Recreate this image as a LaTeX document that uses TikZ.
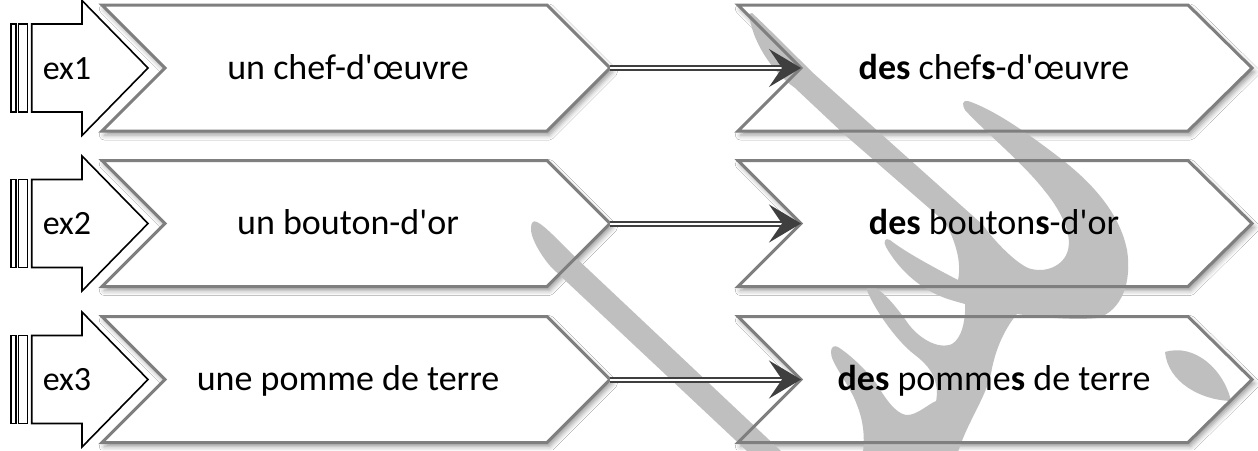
\documentclass[tikz,border=0pt]{standalone}
\usepackage{fontspec}
\setmainfont{Carlito}[Ligatures=TeXOff]
\usetikzlibrary{arrows.meta,shadows.blur}
\definecolor{chevgray}{HTML}{7F7F7F}
\definecolor{linkgray}{HTML}{3F3F3F}
\definecolor{wmgray}{HTML}{BFBFBF}
% background of a row: chevron fills with their soft shadows
\newcommand{\exrowbg}[2]{%
  \fill[chevbg] (102,#2-63) -- (547,#2-63) -- (610,#2) -- (547,#2+63) -- (102,#2+63) -- (165,#2) -- cycle;
  \fill[chevbg] (738,#2-63) -- (1188,#2-63) -- (1252,#2) -- (1188,#2+63) -- (738,#2+63) -- (801,#2) -- cycle;
}
% foreground of a row: outlines, block arrow, texts, connector
\newcommand{\exrowfg}[4]{%
  \draw[stripe] (10.7,#2-44) rectangle (15.7,#2+44);
  \draw[stripe] (18.3,#2-44) rectangle (27.3,#2+44);
  \draw[blockarrow] (31.7,#2-44) -- (82,#2-44) -- (82,#2-67.5) -- (148,#2) -- (82,#2+67.5) -- (82,#2+44) -- (31.7,#2+44) -- cycle;
  \node[exlbl,anchor=base] (ex#1) at (67,#2+11) {ex#1};
  \draw[chevline] (102,#2-63) -- (547,#2-63) -- (610,#2) -- (547,#2+63) -- (102,#2+63) -- (165,#2) -- cycle;
  \coordinate (ltip#1) at (610,#2);
  \node[lbl,anchor=base] (left#1) at (348,#2+11) {#3};
  \draw[chevline] (738,#2-63) -- (1188,#2-63) -- (1252,#2) -- (1188,#2+63) -- (738,#2+63) -- (801,#2) -- cycle;
  \coordinate (rnotch#1) at (801,#2);
  \node[lbl,anchor=base] (right#1) at (994,#2+11) {#4};
  \draw[link] (ltip#1) -- (rnotch#1);
}
\begin{document}
\begin{tikzpicture}[x=0.5pt,y=-0.5pt,
  chevbg/.style={fill=white,
    blur shadow={shadow xshift=1.2pt,shadow yshift=-2pt,shadow blur radius=2.5pt,shadow opacity=40}},
  chevline/.style={draw=chevgray,line width=1.5pt,line join=miter},
  blockarrow/.style={draw=black,line width=0.8pt,fill=white,line join=miter},
  stripe/.style={draw=black,line width=0.8pt,fill=white},
  lbl/.style={font=\fontsize{18}{20}\selectfont,inner sep=0pt,text=black},
  exlbl/.style={font=\fontsize{17}{19}\selectfont,inner sep=0pt,text=black},
  link/.style={draw=linkgray,line width=1pt,double=white,double distance=1pt,
    -{Stealth[length=16pt,width=19pt,inset=6.5pt]}},
  wm/.style={fill=wmgray,draw=none}
]
\useasboundingbox (0,0) rectangle (1258,450);
\fill[white] (0,0) rectangle (1258,450);

\exrowbg{1}{68}
\exrowbg{2}{223.5}
\exrowbg{3}{379.5}

% watermark (grey calligraphy)
\fill[wm] (531,228) .. controls (530,236) and (540,255) .. (552,268) -- (748,452) -- (782,452) -- (574,256) .. controls (558,240) and (545,226) .. (537,222) .. controls (533,220) and (531,223) .. cycle;
\fill[wm] (749,14) .. controls (752,40) and (770,70) .. (795,88) -- (845,135) -- (945,222)
  .. controls (955,240) and (962,262) .. (958,280)
  .. controls (935,268) and (905,252) .. (890,240)
  .. controls (885,237) and (883,242) .. (886,247)
  .. controls (898,268) and (918,288) .. (945,298)
  .. controls (985,312) and (1060,322) .. (1098,318)
  .. controls (1122,310) and (1132,282) .. (1127,250)
  .. controls (1120,215) and (1095,185) .. (1060,158)
  .. controls (1030,135) and (995,110) .. (968,101)
  .. controls (962,100) and (962,105) .. (965,110)
  .. controls (985,132) and (1022,162) .. (1044,190)
  .. controls (1062,212) and (1072,234) .. (1068,250)
  .. controls (1064,266) and (1045,274) .. (1028,268)
  .. controls (1015,262) and (995,242) .. (983,225)
  -- (880,133) -- (812,72) .. controls (790,50) and (765,25) .. (752,13) -- cycle;
\fill[wm] (867,290) .. controls (872,305) and (895,340) .. (915,355)
  .. controls (928,365) and (936,375) .. (937,392)
  .. controls (936,412) and (929,432) .. (925,452) -- (958,452)
  .. controls (968,420) and (988,395) .. (992,368)
  .. controls (998,340) and (1010,320) .. (1025,305) -- (965,300)
  .. controls (966,320) and (962,338) .. (952,344)
  .. controls (938,350) and (918,338) .. (907,322)
  .. controls (895,305) and (882,290) .. (872,286)
  .. controls (868,285) and (866,287) .. cycle;
\fill[wm] (831,352) .. controls (830,362) and (850,385) .. (857,405)
  .. controls (863,420) and (865,435) .. (863,452) -- (945,452) -- (940,400)
  .. controls (932,400) and (918,416) .. (906,415)
  .. controls (895,413) and (885,398) .. (876,383)
  .. controls (862,365) and (846,352) .. (838,347)
  .. controls (834,345) and (831,347) .. cycle;
\fill[wm] (1165,352) .. controls (1195,343) and (1224,370) .. (1231,401) .. controls (1200,400) and (1168,382) .. cycle;

\exrowfg{1}{68}{un chef-d'œuvre}{\textbf{des} chef\textbf{s}-d'œuvre}
\exrowfg{2}{223.5}{un bouton-d'or}{\textbf{des} bouton\textbf{s}-d'or}
\exrowfg{3}{379.5}{une pomme de terre}{\textbf{des} pomme\textbf{s} de terre}
\end{tikzpicture}
\end{document}
